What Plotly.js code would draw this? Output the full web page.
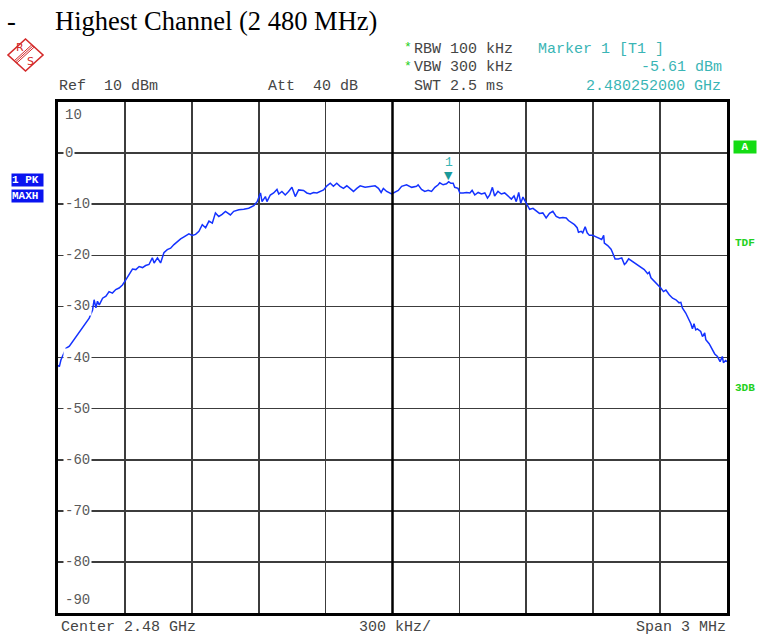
<!DOCTYPE html>
<html>
<head>
<meta charset="utf-8">
<script src="https://cdn.plot.ly/plotly-3.0.1.min.js"></script>
<style>
html,body{margin:0;padding:0;background:#fff;}
#chart{width:757px;height:637px;}
</style>
</head>
<body>
<div id="chart"></div>
<script>
// Frequency in MHz (center 2480 MHz, span 3 MHz)
const freqMHz = [
2478.500,2478.506,2478.513,2478.521,2478.536,2478.551,2478.566,2478.580,2478.595,2478.610,
2478.625,2478.640,2478.655,2478.662,2478.670,2478.677,2478.685,2478.700,2478.715,2478.729,
2478.744,2478.759,2478.774,2478.789,2478.804,2478.819,2478.834,2478.849,2478.864,2478.879,
2478.893,2478.908,2478.923,2478.931,2478.946,2478.960,2478.975,2478.990,2479.005,2479.020,
2479.035,2479.050,2479.065,2479.087,2479.102,2479.117,2479.132,2479.147,2479.162,2479.177,
2479.192,2479.206,2479.221,2479.236,2479.251,2479.273,2479.288,2479.311,2479.333,2479.355,
2479.378,2479.393,2479.408,2479.415,2479.430,2479.437,2479.452,2479.467,2479.482,2479.490,
2479.504,2479.519,2479.534,2479.549,2479.564,2479.579,2479.601,2479.616,2479.631,2479.646,
2479.661,2479.676,2479.691,2479.706,2479.721,2479.735,2479.750,2479.765,2479.780,2479.795,
2479.810,2479.825,2479.840,2479.855,2479.877,2479.899,2479.922,2479.937,2479.949,2479.959,
2479.974,2479.996,2480.011,2480.026,2480.041,2480.063,2480.086,2480.108,2480.115,2480.130,
2480.145,2480.160,2480.175,2480.190,2480.205,2480.212,2480.227,2480.242,2480.252,2480.262,
2480.272,2480.279,2480.294,2480.302,2480.317,2480.332,2480.347,2480.357,2480.369,2480.384,
2480.399,2480.414,2480.426,2480.436,2480.448,2480.458,2480.473,2480.488,2480.503,2480.518,
2480.533,2480.545,2480.555,2480.566,2480.575,2480.585,2480.595,2480.607,2480.615,2480.630,
2480.645,2480.659,2480.674,2480.689,2480.704,2480.719,2480.734,2480.749,2480.764,2480.779,
2480.789,2480.801,2480.816,2480.828,2480.834,2480.846,2480.853,2480.864,2480.873,2480.883,
2480.898,2480.913,2480.928,2480.938,2480.947,2480.950,2480.965,2480.980,2480.987,2480.998,
2481.013,2481.028,2481.040,2481.047,2481.059,2481.069,2481.084,2481.099,2481.114,2481.129,
2481.144,2481.151,2481.159,2481.174,2481.189,2481.203,2481.215,2481.226,2481.241,2481.256,
2481.271,2481.285,2481.293,2481.300,2481.315,2481.326,2481.338,2481.345,2481.352,2481.360,
2481.367,2481.382,2481.390,2481.400,2481.405,2481.420,2481.434,2481.445,2481.457,2481.469,
2481.479,2481.484,2481.494,2481.500
];
// Level in dBm (trace 1, PK / MAXH)
const levelDbm = [
-41.5,-41.8,-40.5,-39.8,-38.2,-37.8,-36.9,-35.9,-35.2,-34.2,
-33.3,-32.3,-30.7,-28.7,-30.3,-29.0,-29.7,-28.4,-28.0,-27.1,
-27.4,-26.7,-26.4,-25.8,-24.8,-23.8,-22.7,-22.8,-22.2,-22.4,
-22.0,-21.8,-20.5,-21.5,-20.5,-21.5,-19.5,-18.9,-18.6,-17.9,
-17.3,-16.8,-16.4,-15.8,-16.1,-15.9,-15.3,-14.0,-14.6,-13.3,
-13.7,-11.7,-12.4,-12.0,-11.4,-12.1,-11.4,-11.1,-11.0,-10.8,
-10.3,-9.5,-7.8,-9.5,-8.5,-9.5,-8.2,-7.8,-7.1,-8.0,
-7.5,-8.2,-7.5,-6.7,-8.5,-7.2,-7.3,-7.8,-8.0,-7.7,
-7.8,-7.5,-7.2,-6.4,-5.9,-6.5,-5.9,-6.5,-6.9,-6.4,
-6.9,-7.5,-6.9,-6.4,-6.7,-6.5,-6.4,-6.9,-7.7,-6.9,
-7.5,-8.0,-7.7,-7.3,-6.5,-6.2,-6.7,-6.5,-6.2,-7.1,
-7.5,-7.3,-7.5,-6.7,-6.2,-5.8,-6.2,-6.0,-5.61,-5.9,
-5.9,-6.7,-6.9,-7.8,-7.8,-7.7,-7.8,-7.3,-8.2,-7.7,
-8.0,-7.8,-8.8,-8.2,-6.7,-8.4,-7.5,-8.0,-7.8,-8.5,
-9.0,-8.4,-9.5,-7.7,-9.8,-8.6,-9.5,-10.5,-11.0,-10.8,
-11.4,-11.8,-11.7,-12.7,-11.8,-11.4,-12.4,-12.7,-12.6,-12.7,
-13.2,-13.5,-14.0,-14.6,-15.5,-15.3,-15.6,-14.4,-15.6,-16.1,
-16.1,-16.4,-16.8,-16.9,-16.1,-17.6,-18.1,-18.8,-19.5,-20.7,
-20.7,-20.5,-21.8,-21.5,-20.7,-21.0,-21.5,-22.0,-22.5,-22.8,
-23.6,-23.3,-24.4,-25.1,-25.6,-26.4,-27.1,-26.8,-27.7,-28.4,
-28.7,-29.3,-29.2,-30.3,-31.3,-32.3,-33.4,-34.4,-33.4,-34.6,
-34.4,-34.9,-35.9,-35.2,-36.5,-37.3,-38.5,-39.3,-39.8,-40.8,
-39.8,-41.0,-40.6,-40.8
];
const yTickValues = [10,0,-10,-20,-30,-40,-50,-60,-70,-80,-90];
const yTickLabels = ["10","0","-10","-20","-30","-40","-50","-60","-70","-80","-90"];
const markerFreqMHz = 2480.252;
const markerLevelDbm = -5.61;
const centerMHz = 2480;
const spanMHz = 3;

const W = 757, H = 637;
const M = {l:58, r:30, t:102, b:24};
const PW = W - M.l - M.r, PH = H - M.t - M.b;
const px = x => (x - M.l) / PW;
const py = y => (H - M.b - y) / PH;

const MONO = '"Liberation Mono","DejaVu Sans Mono",monospace';
const GRAY = '#454545';
const TEAL = '#3ab5b5';
const GREEN = '#22d022';

function txt(text, x, y, xanchor, color, size, extra) {
  return Object.assign({
    xref:'paper', yref:'paper', x:px(x), y:py(y), text:text, showarrow:false,
    xanchor:xanchor, yanchor:'middle',
    font:{family:MONO, size:size||15, color:color||GRAY}
  }, extra||{});
}

const annotations = [];
// Title
const SERIF = '"Liberation Serif","Times New Roman",serif';
annotations.push({xref:'paper',yref:'paper',x:px(5),y:py(21),xanchor:'left',yanchor:'middle',showarrow:false,
  text:'-', font:{family:SERIF,size:26.5,color:'#000'}});
annotations.push({xref:'paper',yref:'paper',x:px(53),y:py(21),xanchor:'left',yanchor:'middle',showarrow:false,
  text:'Highest Channel (2 480 MHz)', font:{family:SERIF,size:26.5,color:'#000'}});
// header texts
annotations.push(txt('Ref\u00a0\u00a010\u00a0dBm', 57, 87, 'left'));
annotations.push(txt('Att\u00a0\u00a040\u00a0dB', 266, 87, 'left'));
annotations.push(txt('*', 402, 48, 'left', GREEN, 13));
annotations.push(txt('*', 402, 67, 'left', GREEN, 13));
annotations.push(txt('RBW\u00a0100\u00a0kHz', 412, 49, 'left'));
annotations.push(txt('VBW\u00a0300\u00a0kHz', 412, 68, 'left'));
annotations.push(txt('SWT\u00a02.5\u00a0ms', 412, 87, 'left'));
annotations.push(txt('Marker\u00a01\u00a0[T1\u00a0]', 536, 49, 'left', TEAL));
annotations.push(txt('-5.61\u00a0dBm', 724, 68, 'right', TEAL));
annotations.push(txt('2.480252000\u00a0GHz', 723, 87, 'right', TEAL));
// bottom texts
annotations.push(txt('Center\u00a02.48\u00a0GHz', 59, 627, 'left'));
annotations.push(txt('300\u00a0kHz/', 395, 627, 'center'));
annotations.push(txt('Span\u00a03\u00a0MHz', 728, 627, 'right'));
// left trace boxes
annotations.push(txt('<b>1\u00a0PK</b>', 11, 180, 'left', '#fff', 11, {bgcolor:'#0a14f0', width:31, height:12, borderpad:0, align:'left'}));
annotations.push(txt('<b>MAXH</b>', 11, 196, 'left', '#fff', 11, {bgcolor:'#0a14f0', width:31, height:12, borderpad:0, align:'left'}));
// right side
annotations.push(txt('<b>A</b>', 733, 147, 'left', '#fff', 11, {bgcolor:'#14dc14', width:22, height:12, borderpad:0}));
annotations.push(txt('<b>TDF</b>', 733, 243, 'left', GREEN, 11));
annotations.push(txt('<b>3DB</b>', 733, 388, 'left', GREEN, 11));
// y labels inside plot
yTickValues.forEach((v,i) => {
  let ya = 'middle', ys = 0;
  if (i === 0) { ya = 'top'; ys = -3; }
  if (i === yTickValues.length-1) { ya = 'bottom'; ys = 3; }
  annotations.push({xref:'paper', yref:'y', x:0, y:v, xshift:5, yshift:ys, xanchor:'left', yanchor:ya,
    text:yTickLabels[i], showarrow:false, bgcolor:'#fff', borderpad:1,
    font:{family:MONO, size:14, color:'#5a5a5a'}});
});
// marker
annotations.push({xref:'x', yref:'y', x:markerFreqMHz, y:markerLevelDbm, xanchor:'center', yanchor:'bottom',
  yshift:-2, text:'▼', showarrow:false, font:{family:'"DejaVu Sans",sans-serif', size:11, color:'#1a9a9a'}});
annotations.push({xref:'x', yref:'y', x:markerFreqMHz, y:markerLevelDbm, xanchor:'center', yanchor:'bottom',
  yshift:10, text:'1', showarrow:false, font:{family:MONO, size:13, color:TEAL}});

// R&S logo
const RED = '#d42a2a';
const cx = 25.5, cy = 55, hw = 17.5, hh = 16;
const shapes = [];
shapes.push({type:'path', xref:'paper', yref:'paper',
  path:`M ${px(cx)} ${py(cy-hh)} L ${px(cx+hw)} ${py(cy)} L ${px(cx)} ${py(cy+hh)} L ${px(cx-hw)} ${py(cy)} Z`,
  line:{color:RED, width:1.6}, fillcolor:'rgba(0,0,0,0)'});
[0.36,0.43,0.50].forEach(s => {
  const x0 = cx - hw + hw*s, y0 = cy + hh*s;
  const x1 = x0 + hw, y1 = y0 - hh;
  shapes.push({type:'line', xref:'paper', yref:'paper', x0:px(x0), y0:py(y0), x1:px(x1), y1:py(y1),
    line:{color:RED, width:1}});
});
annotations.push({xref:'paper',yref:'paper',x:px(20),y:py(48),text:'R',showarrow:false,xanchor:'center',yanchor:'middle',
  font:{family:'"DejaVu Sans",sans-serif',size:11,color:RED}});
annotations.push({xref:'paper',yref:'paper',x:px(30.5),y:py(61),text:'S',showarrow:false,xanchor:'center',yanchor:'middle',
  font:{family:'"DejaVu Sans",sans-serif',size:11,color:RED}});
// center line
shapes.push({type:'line', xref:'x', yref:'paper', x0:centerMHz, x1:centerMHz, y0:0, y1:1,
  line:{color:'#000', width:2.5}, layer:'above'});

const trace = {
  x: freqMHz, y: levelDbm, type:'scatter', mode:'lines',
  line:{color:'#1432ff', width:1.5}, hoverinfo:'skip'
};

const layout = {
  width:W, height:H,
  margin:M,
  paper_bgcolor:'#fff', plot_bgcolor:'#fff',
  showlegend:false,
  xaxis:{range:[centerMHz-spanMHz/2, centerMHz+spanMHz/2], tick0:centerMHz-spanMHz/2, dtick:spanMHz/10,
    showticklabels:false, ticks:'', showgrid:true, gridcolor:'#3c3c3c', gridwidth:1.6, zeroline:false,
    showline:true, mirror:true, linecolor:'#000', linewidth:3},
  yaxis:{range:[-90,10], tick0:-90, dtick:10, showticklabels:false, ticks:'', showgrid:true,
    gridcolor:'#3c3c3c', gridwidth:1.6, zeroline:false,
    showline:true, mirror:true, linecolor:'#000', linewidth:3},
  annotations:annotations,
  shapes:shapes
};

Plotly.newPlot('chart', [trace], layout, {staticPlot:true, displayModeBar:false});
</script>
</body>
</html>
